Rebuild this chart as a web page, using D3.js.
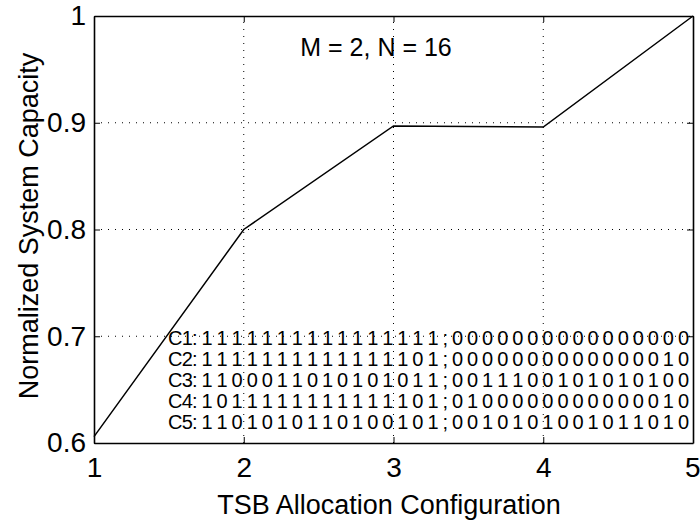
<!DOCTYPE html>
<html>
<head>
<meta charset="utf-8">
<script src="https://cdn.jsdelivr.net/npm/d3@7"></script>
<style>
  body { margin: 0; background: #fff; }
  text { font-family: "Liberation Sans", Arial, Helvetica, sans-serif; fill: #000; }
</style>
</head>
<body>
<div class="chartDiv"></div>
<script>
"use strict";

// chart data
var configs = [1, 2, 3, 4, 5];
var capacity = [0.606, 0.800, 0.897, 0.896, 1.0];
var xTicks = [1, 2, 3, 4, 5];
var yTicks = [0.6, 0.7, 0.8, 0.9, 1];
var yTickLabels = ["0.6", "0.7", "0.8", "0.9", "1"];
var allocLabels = ["C1:", "C2:", "C3:", "C4:", "C5:"];
var allocBits = [
  "1111111111111111;0000000000000000",
  "1111111111111101;0000000000000010",
  "1100011010101011;0011100101010100",
  "1011111111111101;0100000000000010",
  "1101010110100101;0010101001011010"
];

var width = 700, height = 522;
var margin = {top: 16, right: 7, bottom: 79, left: 94};

var svg = d3.select(".chartDiv").append("svg")
    .attr("width", width)
    .attr("height", height);

var x = d3.scaleLinear()
    .domain([1, 5])
    .range([margin.left, width - margin.right]);

var y = d3.scaleLinear()
    .domain([0.6, 1])
    .range([height - margin.bottom, margin.top]);

// dotted grid
svg.append("g").selectAll("line.gx")
    .data(xTicks.slice(1, -1))
  .enter().append("line")
    .attr("x1", function(d) { return x(d); })
    .attr("x2", function(d) { return x(d); })
    .attr("y1", y(0.6))
    .attr("y2", y(1))
    .style("stroke", "#000")
    .style("stroke-width", 1)
    .style("stroke-dasharray", "1,6");

svg.append("g").selectAll("line.gy")
    .data(yTicks.slice(1, -1))
  .enter().append("line")
    .attr("x1", x(1))
    .attr("x2", x(5))
    .attr("y1", function(d) { return y(d); })
    .attr("y2", function(d) { return y(d); })
    .style("stroke", "#000")
    .style("stroke-width", 1)
    .style("stroke-dasharray", "1,6");

// axes, ticks pointing inward
var xAxisG = svg.append("g")
    .attr("transform", "translate(0," + y(0.6) + ")")
    .call(d3.axisBottom(x).tickValues(xTicks).tickFormat(d3.format("d")).tickSizeInner(-6).tickSizeOuter(0).tickPadding(14));
svg.append("g")
    .attr("transform", "translate(" + x(1) + ",0)")
    .call(d3.axisLeft(y).tickValues(yTicks).tickFormat(function(d, i) { return yTickLabels[i]; }).tickSizeInner(-6).tickSizeOuter(0).tickPadding(8));
svg.append("g")
    .attr("transform", "translate(0," + y(1) + ")")
    .call(d3.axisTop(x).tickValues(xTicks).tickFormat("").tickSizeInner(-6).tickSizeOuter(0));
svg.append("g")
    .attr("transform", "translate(" + x(5) + ",0)")
    .call(d3.axisRight(y).tickValues(yTicks).tickFormat("").tickSizeInner(-6).tickSizeOuter(0));

svg.selectAll(".domain").style("stroke", "#000").style("stroke-width", 1.6);
svg.selectAll(".tick line").style("stroke", "#000");
svg.selectAll(".tick text")
    .style("font-size", "28px")
    .style("font-family", "'Liberation Sans', Arial, sans-serif");
// keep the last x label inside the frame
xAxisG.selectAll(".tick text").filter(function(d) { return d === 5; })
    .attr("text-anchor", "end")
    .attr("x", 7);

// the line
var valueline = d3.line()
    .x(function(d, i) { return x(configs[i]); })
    .y(function(d) { return y(d); });

svg.append("path")
    .datum(capacity)
    .attr("d", valueline)
    .style("fill", "none")
    .style("stroke", "#000")
    .style("stroke-width", 1.5);

// annotation
svg.append("text")
    .attr("x", 376)
    .attr("y", 56)
    .attr("text-anchor", "middle")
    .style("font-size", "25px")
    .text("M = 2, N = 16");

// allocation table
svg.append("g").selectAll("text.alloc")
    .data(allocBits)
  .enter().append("text")
    .attr("x", 168)
    .attr("y", function(d, i) { return 345 + i * 21; })
    .attr("textLength", 521)
    .attr("lengthAdjust", "spacing")
    .style("font-size", "20px")
    .text(function(d, i) { return allocLabels[i] + " " + d.split("").join(" "); });

// axis titles
svg.append("text")
    .attr("x", 389)
    .attr("y", 514)
    .attr("text-anchor", "middle")
    .style("font-size", "27px")
    .text("TSB Allocation Configuration");

svg.append("text")
    .attr("transform", "translate(38,226) rotate(-90)")
    .attr("text-anchor", "middle")
    .style("font-size", "27px")
    .text("Normalized System Capacity");
</script>
</body>
</html>
